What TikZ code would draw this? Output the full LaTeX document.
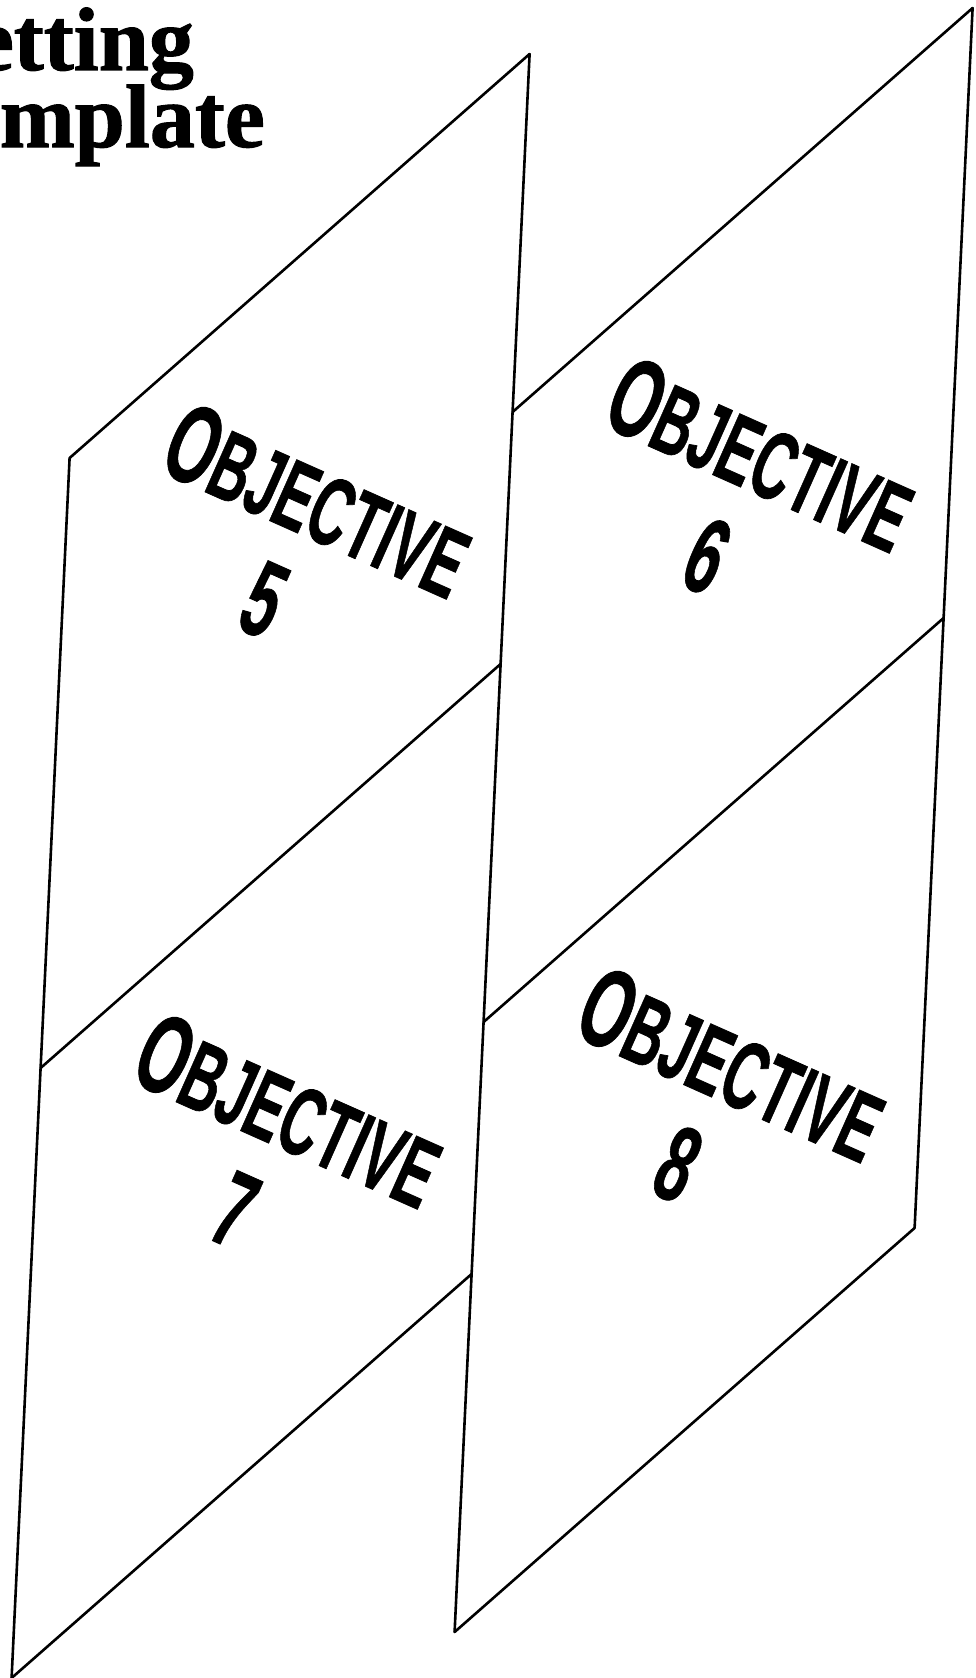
\documentclass[tikz,border=0pt]{standalone}
\usepackage{fontspec}
\newfontfamily\titlefont{Liberation Serif}[FakeBold=1.2]
\newfontfamily\objfont{Liberation Sans}[FakeBold=0.8]
\newcommand{\objword}{\scalebox{0.57}[1]{\fontsize{112}{112}\selectfont O\fontsize{97}{97}\selectfont BJECTIVE}}
\newcommand{\objnum}[1]{\scalebox{0.57}[1]{\fontsize{108}{108}\selectfont #1}}
\begin{document}
\begin{tikzpicture}[x=1pt,y=-1pt,
  edge/.style={line width=2.6pt, line join=round, line cap=round},
  wordlbl/.style={font=\objfont\bfseries, inner sep=0pt, rotate=-24},
  titlelbl/.style={font=\titlefont\bfseries\fontsize{90}{90}\selectfont, inner sep=0pt, anchor=base east}]
\useasboundingbox (0,0) rectangle (975,1678);
% left strip, left edge
\coordinate (A0) at (69.6,458);
\coordinate (A1) at (40.6,1068);
\coordinate (A2) at (11.6,1678);
% middle line (left strip right edge)
\coordinate (M0) at (529.6,54);
\coordinate (M1) at (500.6,664);
\coordinate (M2) at (471.6,1274);
% right strip, left edge (on middle line)
\coordinate (R0) at (512.6,412);
\coordinate (R1) at (483.6,1022);
\coordinate (R2) at (454.6,1632);
% right strip, right edge
\coordinate (S0) at (972.6,8);
\coordinate (S1) at (943.6,618);
\coordinate (S2) at (914.6,1228);
% long edges
\draw[edge] (A0) -- (A1) -- (A2);
\draw[edge] (M0) -- (M1) -- (M2) -- (R2);
\draw[edge] (S0) -- (S1) -- (S2);
% diagonals
\draw[edge] (A0) -- (M0);
\draw[edge] (A1) -- (M1);
\draw[edge] (A2) -- (M2);
\draw[edge] (R0) -- (S0);
\draw[edge] (R1) -- (S1);
\draw[edge] (R2) -- (S2);
% labels
\node[wordlbl] (w5) at (318,500) {\objword};
\node[wordlbl] (n5) at (264,600) {\objnum{5}};
\node[wordlbl] (w6) at (761,454) {\objword};
\node[wordlbl] (n6) at (707,556) {\objnum{6}};
\node[wordlbl] (w7) at (289,1110) {\objword};
\node[wordlbl] (n7) at (235,1210) {\objnum{7}};
\node[wordlbl] (w8) at (732,1064) {\objword};
\node[wordlbl] (n8) at (678,1164) {\objnum{8}};
% title fragments
\node[titlelbl] (t1) at (194,70) {etting};
\node[titlelbl] (t2) at (265,147) {mplate};
\end{tikzpicture}
\end{document}
